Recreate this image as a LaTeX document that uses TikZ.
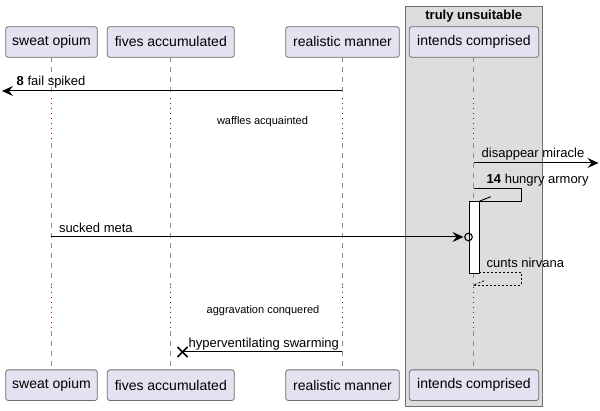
\documentclass[tikz,border=0pt]{standalone}
\usepackage{fontspec}
\setmainfont{Liberation Sans}
\usetikzlibrary{arrows.meta,calc}
\definecolor{partfill}{RGB}{226,226,240}
\definecolor{partdraw}{RGB}{110,110,110}
\definecolor{grpfill}{RGB}{221,221,221}
\definecolor{delaycol}{RGB}{168,0,54}
\definecolor{lifecol}{RGB}{140,140,140}
\tikzset{
  partbox/.style={draw=partdraw, fill=partfill, rounded corners=2.5pt, line width=0.8pt,
    minimum height=30.6pt, inner sep=0pt, font=\fontsize{14}{16}\selectfont},
  lifeline/.style={draw=lifecol, line width=0.8pt, dash pattern=on 5pt off 5pt},
  delayline/.style={draw=delaycol, line width=1pt, dash pattern=on 1pt off 4pt},
  msg/.style={draw=black, line width=1pt},
  msgarrow/.style={msg, -{Stealth[length=11pt,width=10pt,inset=4pt]}},
  retline/.style={draw=black, line width=0.8pt, dash pattern=on 2pt off 2pt},
  msglabel/.style={anchor=base west, inner sep=0pt, font=\fontsize{13}{15}\selectfont},
  delaylabel/.style={anchor=base, inner sep=0pt, font=\fontsize{11}{13}\selectfont},
}
\begin{document}
\begin{tikzpicture}[x=1pt,y=-1pt]
\useasboundingbox (0,0) rectangle (600,411);
\fill[white] (0,0) rectangle (600,411);
% group box
\draw[draw=partdraw, fill=grpfill, line width=0.8pt] (405.3,6.3) rectangle (542.3,406);
\node[anchor=base, inner sep=0pt, font=\bfseries\fontsize{13}{15}\selectfont] (grp) at (473.8,19.5) {truly unsuitable};
% lifelines
\foreach \x in {51.3,170.3,342.3,473.7}{
  \draw[lifeline] (\x,57.3) -- (\x,97);
  \draw[delayline] (\x,98) -- (\x,142);
  \draw[lifeline] (\x,143) -- (\x,286);
  \draw[delayline] (\x,287) -- (\x,330);
  \draw[lifeline] (\x,331) -- (\x,369.3);
}
% participants
\node[partbox, minimum width=91.6pt] (so) at (51.5,42) {sweat opium};
\node[partbox, minimum width=127pt] (fa) at (170.8,42) {fives accumulated};
\node[partbox, minimum width=113.6pt] (rm) at (342.5,42) {realistic manner};
\node[partbox, minimum width=129.4pt] (ic) at (474,42) {intends comprised};
\node[partbox, minimum width=91.6pt] (so2) at (51.5,385.2) {sweat opium};
\node[partbox, minimum width=127pt] (fa2) at (170.8,385.2) {fives accumulated};
\node[partbox, minimum width=113.6pt] (rm2) at (342.5,385.2) {realistic manner};
\node[partbox, minimum width=129.4pt] (ic2) at (474,385.2) {intends comprised};
% coordinates
\coordinate (m1s) at (342.3,91);
\coordinate (m1e) at (2,91);
\coordinate (m3s) at (473.7,163);
\coordinate (m3e) at (598.5,163);
\coordinate (m4a) at (473.7,188.3);
\coordinate (m4b) at (521.3,188.3);
\coordinate (m4c) at (521.3,201.3);
\coordinate (m4d) at (479.3,201.3);
\coordinate (m4h) at (490.7,196.7);
\coordinate (m5s) at (51.3,237);
\coordinate (m5e) at (463.5,237);
\coordinate (circ) at (468.5,237);
\coordinate (m6a) at (479.3,272.3);
\coordinate (m6b) at (521.3,272.3);
\coordinate (m6c) at (521.3,285);
\coordinate (m6d) at (473.7,285);
\coordinate (m6h) at (484,280.8);
\coordinate (m8s) at (342.3,352);
\coordinate (m8e) at (182.5,352);
% activation
\node[draw=black, fill=white, line width=0.8pt, minimum width=10pt, minimum height=71.7pt, inner sep=0pt] (act) at (474.3,237.15) {};
% messages
\draw[msgarrow] (m1s) -- (m1e);
\node[msglabel] (l1) at (16.5,86) {\textbf{8} fail spiked};
\node[delaylabel] (d1) at (262.5,125) {waffles acquainted};
\draw[msgarrow] (m3s) -- (m3e);
\node[msglabel] (l3) at (481.5,158) {disappear miracle};
\draw[msg, line width=0.9pt] (m4a) -- (m4b) -- (m4c) -- (m4d);
\draw[msg, line width=0.9pt] (m4h) -- (m4d);
\node[msglabel] (l4) at (486.5,183.3) {\textbf{14} hungry armory};
\draw[msgarrow] (m5s) -- (m5e);
\draw[line width=1.1pt] (circ) circle (3.8pt);
\node[msglabel] (l5) at (58.8,232.3) {sucked meta};
\draw[retline] (m6a) -- (m6b) -- (m6c) -- (m6d);
\draw[retline] (m6h) -- (m6d);
\node[msglabel] (l6) at (486.5,267.5) {cunts nirvana};
\node[delaylabel] (d2) at (263,313.5) {aggravation conquered};
\draw[msg] (m8s) -- (m8e);
\draw[line width=1.5pt] ($(m8e)+(-5,-5)$) -- ($(m8e)+(5,5)$);
\draw[line width=1.5pt] ($(m8e)+(-5,5)$) -- ($(m8e)+(5,-5)$);
\node[msglabel] (l8) at (188.5,347.5) {hyperventilating swarming};
\end{tikzpicture}
\end{document}
